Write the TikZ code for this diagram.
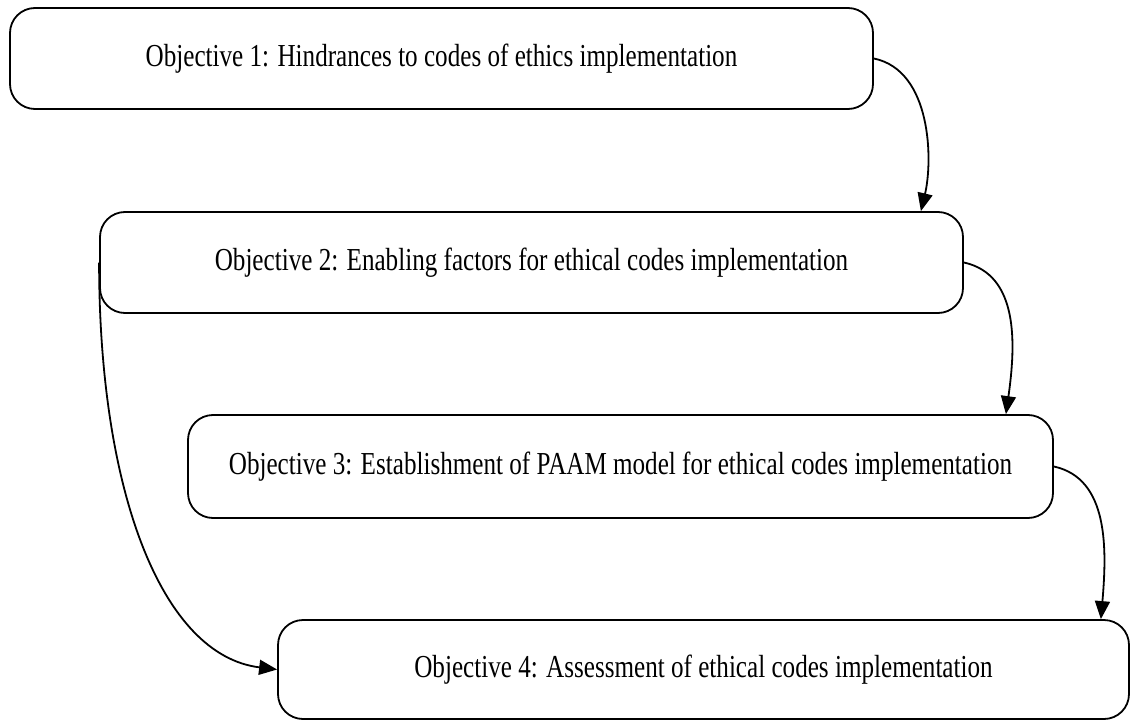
\documentclass[tikz,border=0pt]{standalone}
\usepackage{fontspec}
\setmainfont{Liberation Serif}
\usetikzlibrary{arrows.meta}

% condensed serif label used in every objective box
\newcommand{\objlabel}[1]{\scalebox{0.785}[1]{\fontsize{32}{38}\selectfont #1}}

\tikzset{
  objbox/.style={draw=black, line width=1.8pt, rounded corners=25pt,
    fill=white, inner sep=0pt, align=center},
  flow/.style={line width=1.8pt, draw=black,
    -{Triangle[length=18pt,width=15pt]}}
}

\begin{document}
\begin{tikzpicture}[x=1pt,y=-1pt]
\useasboundingbox[fill=white] (0,0) rectangle (1132,722);

\node[objbox, minimum width=863pt, minimum height=101pt] (b1) at (441.5,58.5)
  {\objlabel{Objective 1: Hindrances to codes of ethics implementation}};
\node[objbox, minimum width=863pt, minimum height=101pt] (b2) at (531.5,262.5)
  {\objlabel{Objective 2: Enabling factors for ethical codes implementation}};
\node[objbox, minimum width=865pt, minimum height=103pt] (b3) at (620.5,466.5)
  {\objlabel{Objective 3: Establishment of PAAM model for ethical codes implementation}};
\node[objbox, minimum width=851pt, minimum height=99pt] (b4) at (703.5,669.5)
  {\objlabel{Objective 4: Assessment of ethical codes implementation}};

% chain of objectives down the right-hand side
\draw[flow] (b1.east) .. controls +(58,12) and +(12,-50) .. ([xshift=-43pt]b2.north east);
\draw[flow] (b2.east) .. controls +(55,12) and +(10,-70) .. ([xshift=-48pt]b3.north east);
\draw[flow] (b3.east) .. controls +(55,12) and +(6,-70) .. ([xshift=-29pt]b4.north east);

% direct link from objective 2 to objective 4
\draw[flow] (b2.west) .. controls +(0,230) and +(-115,-14) .. (b4.west);
\end{tikzpicture}
\end{document}
